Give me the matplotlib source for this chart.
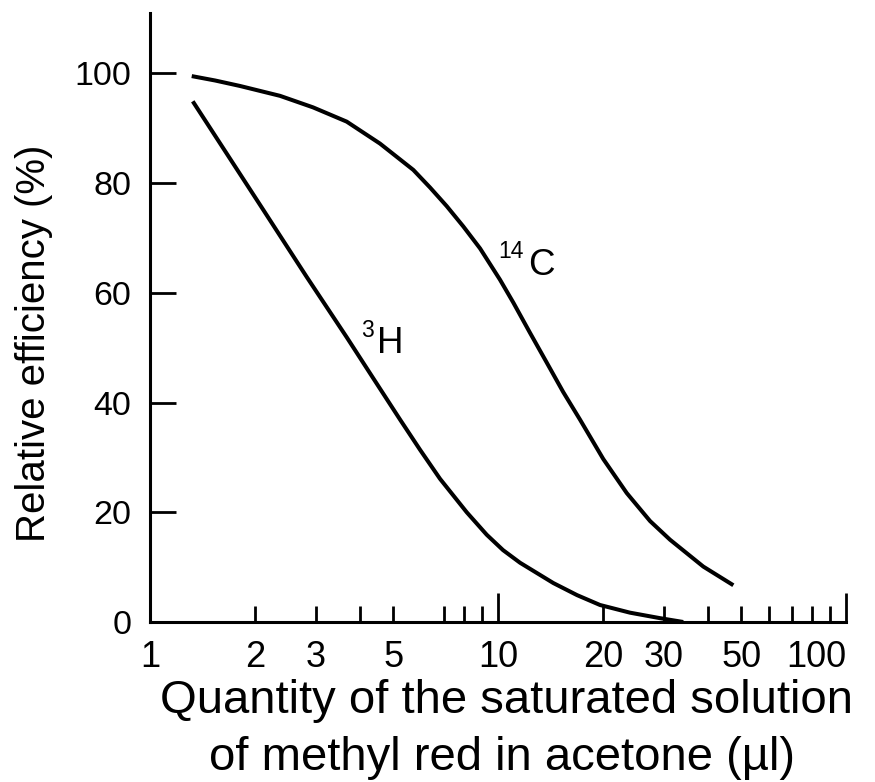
import matplotlib
matplotlib.use("Agg")
import matplotlib.pyplot as plt
from matplotlib.ticker import FixedLocator, FixedFormatter

plt.rcParams['font.family'] = ['Liberation Sans', 'DejaVu Sans']

# ---- data ----
h3_x = [1.327, 2.117, 2.820, 3.675, 4.383, 5.230, 5.969, 6.813, 8.131, 9.282, 10.34,
        11.57, 14.42, 16.87, 19.64, 23.95, 29.21, 34.07]
h3_y = [94.9, 75.1, 62.9, 51.9, 44.4, 36.9, 31.4, 26.1, 20.0, 15.9, 13.1,
        10.8, 7.1, 4.9, 3.1, 1.7, 0.7, 0.0]

c14_x = [1.318, 1.538, 1.814, 2.364, 2.941, 3.675, 4.580, 5.710, 6.377, 7.122, 7.948,
         8.878, 10.13, 11.07, 12.36, 13.80, 15.40, 17.20, 20.07, 23.44, 27.35, 31.21,
         38.90, 47.45]
c14_y = [99.5, 98.7, 97.7, 95.9, 93.8, 91.2, 87.2, 82.4, 79.2, 75.8, 72.1,
         68.1, 62.4, 58.2, 52.7, 47.3, 41.9, 36.9, 29.7, 23.5, 18.4, 15.0,
         10.1, 6.7]

x_major = [1, 10, 100]
x_major_labels = ['1', '10', '100']
x_minor = [2, 3, 4, 5, 7, 8, 9, 20, 30, 40, 50, 60, 70, 80, 90]
x_minor_labels = ['2', '3', '', '5', '', '', '', '20', '30', '', '50', '', '', '', '']
y_ticks = [0, 20, 40, 60, 80, 100]

x_label_lines = ["Quantity of the saturated solution", "of methyl red in acetone (\u00b5l)"]
y_label = "Relative efficiency (%)"

# ---- figure ----
W, H = 875, 782
fig = plt.figure(figsize=(W / 100, H / 100), dpi=100)
ax = fig.add_axes([150 / W, 1 - 622 / H, 696 / W, (622 - 13) / H])

lw = 2.9
for xs, ys in [(h3_x, h3_y), (c14_x, c14_y)]:
    ax.plot(xs, ys, color='black', lw=lw, solid_capstyle='butt',
            solid_joinstyle='round')

ax.set_xscale('log')
ax.set_xlim(1, 100)
ax.set_ylim(0, 111)

for s in ['top', 'right']:
    ax.spines[s].set_visible(False)
for s in ['left', 'bottom']:
    ax.spines[s].set_linewidth(2.2)

ax.xaxis.set_major_locator(FixedLocator(x_major))
ax.xaxis.set_major_formatter(FixedFormatter(x_major_labels))
ax.xaxis.set_minor_locator(FixedLocator(x_minor))
ax.xaxis.set_minor_formatter(FixedFormatter(x_minor_labels))
ax.set_yticks(y_ticks)
ax.set_yticklabels([str(v) for v in y_ticks])

ax.tick_params(axis='x', which='major', direction='in', length=21, width=2.0,
               labelsize=26, pad=13)
ax.tick_params(axis='x', which='minor', direction='in', length=11.5, width=2.0,
               labelsize=26, pad=13)
ax.tick_params(axis='y', which='major', direction='in', length=19, width=2.0,
               labelsize=24.5, pad=13.5)

# the last x label sits to the left of its tick, inside the figure
ax.xaxis.get_major_ticks()[-1].label1.set_horizontalalignment('right')

# curve labels
ax.text(4.49, 49.1, 'H', fontsize=26.5, ha='left', va='baseline')
ax.annotate('3', xy=(4.49, 49.1), xytext=(-2.5, 11.0), textcoords='offset points',
            fontsize=16.5, ha='right', va='baseline')
ax.text(12.2, 63.3, 'C', fontsize=26.5, ha='left', va='baseline')
ax.annotate('14', xy=(12.2, 63.3), xytext=(-3.0, 12.2), textcoords='offset points',
            fontsize=16.5, ha='right', va='baseline')

# axis labels (two lines, each placed on its own baseline)
fig.text(507 / W, 1 - 713 / H, x_label_lines[0], fontsize=34, ha='center',
         va='baseline')
fig.text(502 / W, 1 - 770 / H, x_label_lines[1], fontsize=34, ha='center',
         va='baseline')
fig.text(34 / W, 1 - 343 / H, y_label, fontsize=29, ha='center', va='center',
         rotation=90)

fig.savefig('out.png', dpi=100)
